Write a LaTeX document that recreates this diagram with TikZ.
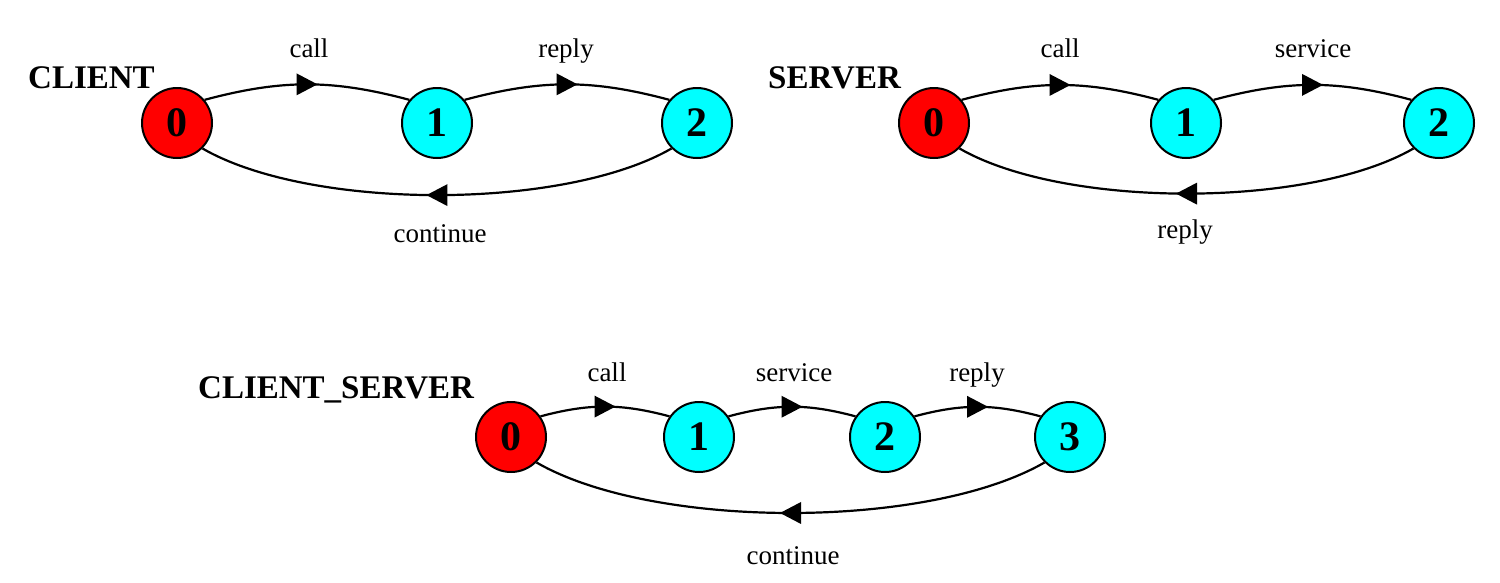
\documentclass[tikz,border=0pt]{standalone}
\usepackage{fontspec}
\setmainfont{Liberation Serif}
\usetikzlibrary{decorations.markings}
\definecolor{stred}{RGB}{255,0,0}
\definecolor{stcyan}{RGB}{0,255,255}
\begin{document}
\begin{tikzpicture}[x=1pt,y=1pt,
 state/.style={circle,draw=black,line width=2pt,minimum size=70pt,inner sep=0pt,font=\fontsize{42}{44}\selectfont\bfseries},
 init/.style={state,fill=stred},
 other/.style={state,fill=stcyan},
 conn/.style={line width=2.2pt,draw=black,postaction={decorate},
   decoration={markings,mark=at position 0.5 with {\fill[black] (-10.5pt,-11pt) -- (10.5pt,0pt) -- (-10.5pt,11pt) -- cycle;}}},
 back/.style={conn,out=-150,in=-30,looseness=0.68},
 lbl/.style={anchor=base,inner sep=0pt,font=\fontsize{27}{32}\selectfont},
 ttl/.style={anchor=base west,inner sep=0pt,font=\fontsize{33}{38}\selectfont\bfseries}]
\useasboundingbox (0,0) rectangle (1500,-582);

% CLIENT
\node[ttl] (tc) at (28,-88) {CLIENT};
\node[init] (a0) at (177,-123) {0};
\node[other] (a1) at (437,-123) {1};
\node[other] (a2) at (697,-123) {2};
\draw[conn] (a0.40) to[out=15,in=165] (a1.140);
\draw[conn] (a1.40) to[out=15,in=165] (a2.140);
\draw[back] (a2.-135) to (a0.-45);
\node[lbl] (la1) at (309,-57) {call};
\node[lbl] (la2) at (566,-57) {reply};
\node[lbl] (la3) at (440,-242) {continue};

% SERVER
\node[ttl] (ts) at (768,-88) {SERVER};
\node[init] (b0) at (934,-123) {0};
\node[other] (b1) at (1186,-123) {1};
\node[other] (b2) at (1439,-123) {2};
\draw[conn] (b0.40) to[out=15,in=165] (b1.140);
\draw[conn] (b1.40) to[out=15,in=165] (b2.140);
\draw[back] (b2.-135) to (b0.-45);
\node[lbl] (lb1) at (1060,-57) {call};
\node[lbl] (lb2) at (1313,-57) {service};
\node[lbl] (lb3) at (1185,-238) {reply};

% CLIENT_SERVER
\node[ttl] (tcs) at (198,-398) {CLIENT\_SERVER};
\node[init] (c0) at (511,-437) {0};
\node[other] (c1) at (699,-437) {1};
\node[other] (c2) at (885,-437) {2};
\node[other] (c3) at (1070,-437) {3};
\draw[conn] (c0.35) to[out=15,in=165] (c1.145);
\draw[conn] (c1.35) to[out=15,in=165] (c2.145);
\draw[conn] (c2.35) to[out=15,in=165] (c3.145);
\draw[back] (c3.-135) to (c0.-45);
\node[lbl] (lc1) at (607,-381) {call};
\node[lbl] (lc2) at (794,-381) {service};
\node[lbl] (lc3) at (977,-381) {reply};
\node[lbl] (lc4) at (793,-564) {continue};
\end{tikzpicture}
\end{document}
